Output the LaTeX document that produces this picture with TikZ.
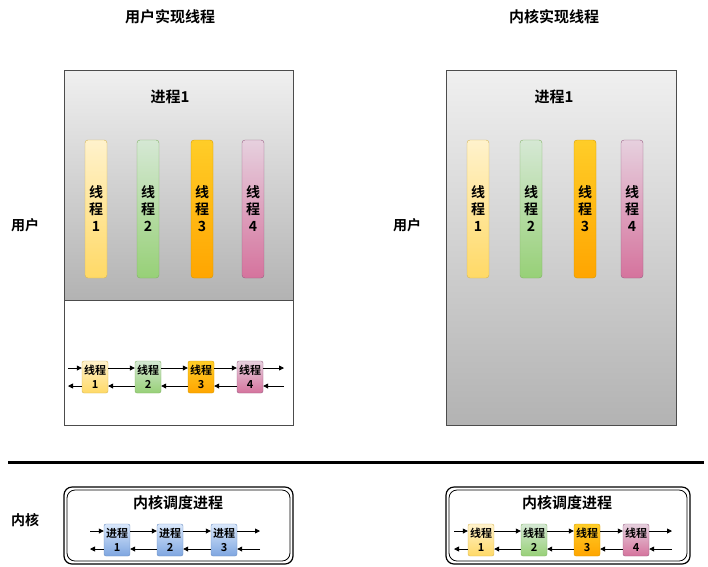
\documentclass[tikz,border=0pt]{standalone}
\usepackage{fontspec}
\setmainfont{Noto Sans CJK SC}[BoldFont={Noto Sans CJK SC Bold}]
\usetikzlibrary{arrows.meta}
\definecolor{yA}{HTML}{FFF2CC}\definecolor{yB}{HTML}{FFD966}\definecolor{yS}{HTML}{D6B656}
\definecolor{gA}{HTML}{D5E8D4}\definecolor{gB}{HTML}{97D077}\definecolor{gS}{HTML}{82B366}
\definecolor{oA}{HTML}{FFCD28}\definecolor{oB}{HTML}{FFA500}\definecolor{oS}{HTML}{D79B00}
\definecolor{pA}{HTML}{E6D0DE}\definecolor{pB}{HTML}{D5739D}\definecolor{pS}{HTML}{996185}
\definecolor{bA}{HTML}{DAE8FC}\definecolor{bB}{HTML}{7EA6E0}\definecolor{bS}{HTML}{6C8EBF}
\tikzset{
 every node/.style={font=\bfseries},
 tall/.style args={#1/#2/#3}{draw=#3,top color=#1,bottom color=#2,rounded corners=3pt,minimum width=22pt,minimum height=138pt,inner sep=0pt,align=center,font=\bfseries\fontsize{14}{17}\selectfont},
 small/.style args={#1/#2/#3}{draw=#3,top color=#1,bottom color=#2,rounded corners=2pt,minimum width=26pt,minimum height=32pt,inner sep=0pt,align=center,font=\bfseries\fontsize{11}{14}\selectfont},
 ar/.style={-{Triangle[length=5pt,width=5pt]},thick},
 title/.style={font=\bfseries\fontsize{15}{17}\selectfont},
 lab/.style={font=\bfseries\fontsize{14}{16}\selectfont},
 proc/.style={draw=black!70,thick,top color=white!94!black,bottom color=black!30,minimum width=229pt,inner sep=0pt},
}
\begin{document}
\begin{tikzpicture}[x=1pt,y=-1pt]
\useasboundingbox (0,0) rectangle (708,566);
\node[title] (t1) at (170,17) {用户实现线程};
\node[title] (t2) at (554,17) {内核实现线程};
\node[proc,minimum height=230pt] (p1) at (178.5,185) {};
\node[draw=black!70,thick,fill=white,minimum width=229pt,minimum height=125pt] (w1) at (178.5,362.5) {};
\node[proc,minimum width=230pt,minimum height=355pt] (p2) at (561,247.5) {};
\node[title] (n1) at (170,97) {进程1};
\node[title] (n2) at (554,97) {进程1};
\node[lab] (u1) at (25,225) {用户};
\node[lab] (u2) at (407,225) {用户};
\node[lab] (k1) at (25,520) {内核};
\foreach \x/\c/\i [count=\k] in {96/y/1,148/g/2,202/o/3,253/p/4}{
 \node[tall={\c A/\c B/\c S}] (L\k) at (\x,209) {线\\程\\\i};}
\foreach \x/\c/\i [count=\k] in {478/y/1,531/g/2,585/o/3,632/p/4}{
 \node[tall={\c A/\c B/\c S}] (R\k) at (\x,209) {线\\程\\\i};}
\draw[line width=3pt] (8,462) coordinate (s1) -- (704,462) coordinate (s2);
\draw[very thick,rounded corners=8pt] (64,487) rectangle (293,564);
\draw[thick,rounded corners=8pt] (67,490) rectangle (290,561);
\draw[very thick,rounded corners=8pt] (446,487) rectangle (690,564);
\draw[thick,rounded corners=8pt] (449,490) rectangle (687,561);
\node[title] (k2) at (178,503) {内核调度进程};
\node[title] (k3) at (567,503) {内核调度进程};
\foreach \x/\c/\i [count=\k] in {95/y/1,148/g/2,201/o/3,250/p/4}{
 \node[small={\c A/\c B/\c S}] (A\k) at (\x,377) {线程\\\i};}
\foreach \x/\i [count=\k] in {117/1,170/2,224/3}{
 \node[small={bA/bB/bS}] (B\k) at (\x,540) {进程\\\i};}
\foreach \x/\c/\i [count=\k] in {481/y/1,534/g/2,587/o/3,636/p/4}{
 \node[small={\c A/\c B/\c S}] (C\k) at (\x,540) {线程\\\i};}
\foreach \P/\n/\l/\r in {A/4/68/284,B/3/90/260,C/4/454/672}{
 \draw[ar] ([yshift=9pt]\P1.west -| \l,0) -- ([yshift=9pt]\P1.west);
 \draw[ar] ([yshift=-9pt]\P1.west) -- ([yshift=-9pt]\P1.west -| \l,0);
 \draw[ar] ([yshift=9pt]\P\n.east) -- ([yshift=9pt]\P\n.east -| \r,0);
 \draw[ar] ([yshift=-9pt]\P\n.east -| \r,0) -- ([yshift=-9pt]\P\n.east);
}
\foreach \a/\b in {A1/A2,A2/A3,A3/A4,B1/B2,B2/B3,C1/C2,C2/C3,C3/C4}{
 \draw[ar] ([yshift=9pt]\a.east) -- ([yshift=9pt]\b.west);
 \draw[ar] ([yshift=-9pt]\b.west) -- ([yshift=-9pt]\a.east);
}
\end{tikzpicture}
\end{document}
